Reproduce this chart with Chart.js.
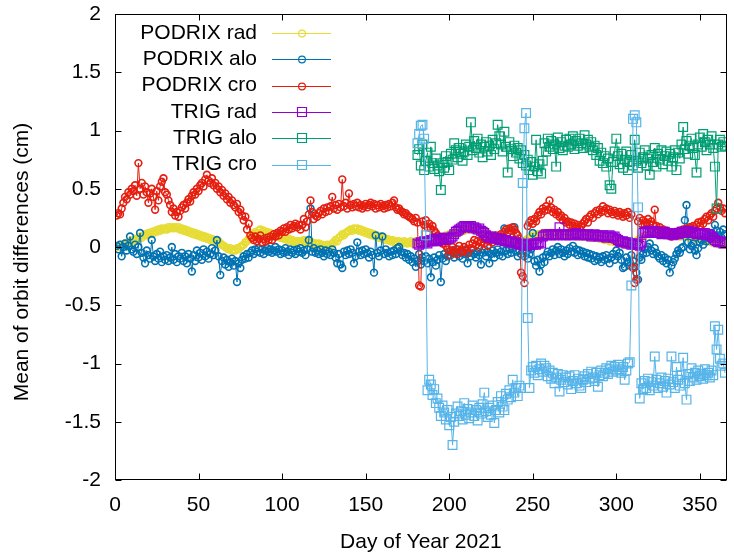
<!DOCTYPE html>
<html>
<head>
<meta charset="utf-8">
<script src="https://cdn.jsdelivr.net/npm/chart.js@4.4.0/dist/chart.umd.min.js"></script>
<style>
  html, body { margin: 0; padding: 0; background: #ffffff; }
  #wrap { width: 734px; height: 559px; }
</style>
</head>
<body>
<div id="wrap"><canvas id="orbitChart" width="734" height="559"></canvas></div>
<script>
// first day of each series (day of year 2021)
const podrixStart = 1;
const trigStart = 181;

const yTicks = [-2, -1.5, -1, -0.5, 0, 0.5, 1, 1.5, 2];
const xTicks = [0, 50, 100, 150, 200, 250, 300, 350];

const seriesNames = ['PODRIX rad', 'PODRIX alo', 'PODRIX cro', 'TRIG rad', 'TRIG alo', 'TRIG cro'];

// PODRIX, days 1..365
const podrixRad = [
  0.00, 0.01, 0.00, 0.02, 0.01, 0.03, 0.02, 0.04, 0.05, 0.04,
  0.06, 0.07, 0.06, 0.08, 0.09, 0.08, 0.10, 0.11, 0.10, 0.12,
  0.11, 0.13, 0.12, 0.14, 0.13, 0.15, 0.14, 0.16, 0.15, 0.16,
  0.15, 0.17, 0.16, 0.17, 0.16, 0.17, 0.16, 0.17, 0.15, 0.16,
  0.14, 0.15, 0.13, 0.14, 0.12, 0.13, 0.11, 0.12, 0.10, 0.11,
  0.09, 0.10, 0.08, 0.09, 0.07, 0.08, 0.06, 0.07, 0.05, 0.06,
  0.04, 0.05, 0.03, 0.02, 0.01, 0.00, -0.01, -0.02, -0.01, -0.03,
  -0.02, -0.03, -0.01, -0.02, 0.00, 0.01, 0.02, 0.04, 0.05, 0.07,
  0.08, 0.10, 0.11, 0.13, 0.12, 0.14, 0.15, 0.13, 0.14, 0.12,
  0.13, 0.11, 0.12, 0.10, 0.11, 0.09, 0.10, 0.09, 0.08, 0.09,
  0.07, 0.08, 0.06, 0.07, 0.05, 0.06, 0.05, 0.04, 0.05, 0.04,
  0.05, 0.04, 0.06, 0.05, 0.04, 0.05, 0.03, 0.04, 0.02, 0.03,
  0.02, 0.03, 0.01, 0.02, 0.00, 0.01, 0.02, 0.00, 0.01, 0.03,
  0.04, 0.06, 0.05, 0.08, 0.09, 0.11, 0.10, 0.12, 0.13, 0.14,
  0.15, 0.14, 0.16, 0.15, 0.16, 0.14, 0.15, 0.13, 0.14, 0.12,
  0.13, 0.11, 0.12, 0.10, 0.11, 0.09, 0.10, 0.08, 0.09, 0.07,
  0.08, 0.06, 0.07, 0.06, 0.05, 0.06, 0.04, 0.05, 0.04, 0.05,
  0.04, 0.03, 0.05, 0.04, 0.03, 0.04, 0.05, 0.03, 0.04, 0.05,
  0.04, 0.05, 0.03, 0.04, 0.05, 0.06, 0.05, 0.06, 0.07, 0.06,
  0.07, 0.06, 0.08, 0.07, 0.08, 0.09, 0.08, 0.10, 0.09, 0.11,
  0.10, 0.12, 0.11, 0.13, 0.12, 0.14, 0.13, 0.15, 0.14, 0.15,
  0.16, 0.15, 0.16, 0.15, 0.16, 0.15, 0.14, 0.15, 0.13, 0.14,
  0.12, 0.13, 0.11, 0.10, 0.09, 0.10, 0.08, 0.07, 0.08, 0.06,
  0.07, 0.05, 0.06, 0.04, 0.05, 0.03, 0.04, 0.02, 0.03, 0.02,
  0.03, 0.02, 0.03, 0.04, 0.05, 0.06, 0.07, 0.08, 0.09, 0.10,
  0.09, 0.10, 0.11, 0.10, 0.11, 0.12, 0.11, 0.12, 0.11, 0.12,
  0.12, 0.11, 0.12, 0.11, 0.12, 0.11, 0.10, 0.11, 0.10, 0.11,
  0.10, 0.11, 0.10, 0.11, 0.10, 0.09, 0.10, 0.09, 0.10, 0.09,
  0.10, 0.09, 0.10, 0.09, 0.08, 0.09, 0.08, 0.09, 0.08, 0.07,
  0.08, 0.07, 0.06, 0.07, 0.06, 0.05, 0.06, 0.05, 0.04, 0.05,
  0.04, 0.03, 0.04, 0.03, 0.02, 0.03, 0.02, 0.03, 0.02, 0.03,
  0.04, 0.05, 0.06, 0.07, 0.08, 0.09, 0.10, 0.11, 0.12, 0.11,
  0.12, 0.13, 0.12, 0.13, 0.12, 0.13, 0.12, 0.11, 0.12, 0.11,
  0.12, 0.11, 0.10, 0.11, 0.10, 0.11, 0.10, 0.09, 0.10, 0.09,
  0.10, 0.09, 0.10, 0.09, 0.08, 0.09, 0.08, 0.07, 0.08, 0.07,
  0.06, 0.07, 0.06, 0.05, 0.06, 0.05, 0.04, 0.05, 0.04, 0.03,
  0.04, 0.03, 0.02, 0.03, 0.02
];

const podrixAlo = [
  0.01, -0.02, 0.02, -0.08, 0.00, 0.03, -0.03, 0.01, 0.09, -0.02,
  -0.04, 0.02, -0.06, 0.00, 0.12, -0.05, -0.09, -0.14, -0.03, -0.07,
  -0.10, 0.06, -0.08, -0.12, -0.06, -0.10, -0.04, -0.13, -0.08, -0.11,
  -0.07, -0.12, -0.09, 0.00, -0.11, -0.06, -0.13, -0.08, -0.10, -0.05,
  -0.12, -0.08, -0.14, -0.06, -0.10, -0.21, -0.07, -0.12, -0.03, -0.09,
  -0.05, -0.11, -0.02, -0.08, -0.04, -0.10, -0.06, -0.01, -0.07, -0.03,
  0.06, -0.08, -0.24, -0.12, -0.09, -0.15, -0.11, -0.17, -0.13, -0.10,
  -0.16, -0.12, -0.30, -0.14, -0.18, -0.11, -0.08, -0.10, -0.06, -0.09,
  -0.05, -0.03, -0.06, -0.02, -0.04, -0.01, -0.05, -0.02, -0.06, -0.03,
  -0.01, -0.04, -0.02, -0.05, -0.03, 0.00, -0.04, -0.02, -0.06, -0.03,
  -0.05, -0.01, -0.04, -0.07, -0.02, -0.05, -0.03, -0.06, -0.02, -0.04,
  -0.01, -0.05, -0.03, -0.07, -0.02, 0.06, 0.33, -0.04, -0.01, -0.05,
  -0.03, -0.06, -0.02, -0.05, -0.08, -0.03, -0.06, -0.04, -0.07, -0.02,
  -0.05, -0.09, -0.14, -0.06, -0.15, -0.18, -0.04, -0.07, -0.03, -0.06,
  -0.02, -0.05, -0.14, -0.08, 0.04, -0.04, -0.07, -0.03, -0.06, -0.02,
  -0.05, -0.09, -0.04, -0.07, -0.22, 0.10, -0.05, -0.08, -0.03, 0.09,
  -0.06, -0.02, -0.05, -0.08, -0.04, -0.07, -0.03, -0.06, -0.01, 0.00,
  -0.04, -0.07, -0.05, -0.09, -0.06, -0.11, -0.08, -0.13, -0.10, -0.17,
  -0.12, -0.06, -0.15, -0.09, -0.12, -0.08, -0.14, -0.10, -0.26, -0.13,
  -0.09, -0.16, -0.11, -0.07, -0.30, -0.10, -0.06, -0.12, -0.08, -0.04,
  -0.07, -0.03, -0.09, -0.05, -0.02, -0.08, -0.04, -0.10, -0.06, -0.03,
  -0.14, -0.05, -0.08, -0.02, -0.06, -0.09, -0.04, -0.07, -0.15, -0.05,
  -0.02, -0.08, -0.04, -0.14, -0.06, -0.03, -0.09, -0.05, -0.02, -0.07,
  -0.04, -0.08, 0.16, -0.03, -0.06, -0.02, -0.05, -0.01, 0.17, -0.04,
  -0.08, -0.03, -0.06, 0.00, -0.08, -0.04, -0.10, -0.06, -0.02, 0.12,
  -0.12, -0.16, -0.11, -0.21, -0.15, -0.09, -0.13, -0.07, -0.04, -0.08,
  -0.05, -0.02, -0.07, -0.03, 0.00, -0.06, -0.02, -0.05, -0.08, -0.03,
  -0.06, -0.01, -0.04, 0.01, -0.05, -0.02, -0.07, -0.03, -0.06, -0.04,
  -0.08, -0.05, -0.09, -0.06, -0.10, -0.07, -0.12, -0.08, -0.11, -0.09,
  -0.13, -0.08, -0.11, -0.07, -0.10, -0.14, -0.09, -0.06, -0.11, -0.03,
  -0.08, -0.05, -0.11, -0.18, -0.17, -0.09, -0.13, -0.16, -0.07, -0.12,
  -0.17, -0.22, -0.28, -0.09, -0.11, -0.06, -0.02, -0.05, 0.00, 0.03,
  -0.03, -0.06, -0.01, -0.05, -0.08, -0.10, -0.07, -0.12, -0.09, -0.14,
  -0.11, -0.22, -0.16, -0.13, -0.10, -0.06, -0.03, -0.05, -0.01, 0.00,
  0.23, 0.36, 0.04, -0.02, 0.01, 0.03, -0.03, -0.07, -0.01, 0.04,
  0.06, 0.02, 0.08, 0.05, 0.10, 0.07, 0.12, 0.09, 0.19, 0.14,
  0.10, 0.13, 0.08, 0.15, 0.11
];

const podrixCro = [
  0.27, 0.29, 0.28, 0.33, 0.38, 0.43, 0.41, 0.47, 0.45, 0.50,
  0.48, 0.53, 0.44, 0.72, 0.50, 0.55, 0.45, 0.52, 0.47, 0.38,
  0.46, 0.50, 0.43, 0.32, 0.48, 0.40, 0.52, 0.56, 0.59, 0.47,
  0.45, 0.40, 0.36, 0.30, 0.33, 0.27, 0.30, 0.26, 0.31, 0.34,
  0.36, 0.33, 0.38, 0.41, 0.39, 0.44, 0.47, 0.45, 0.50, 0.48,
  0.53, 0.55, 0.52, 0.58, 0.62, 0.57, 0.55, 0.59, 0.53, 0.55,
  0.50, 0.52, 0.47, 0.49, 0.44, 0.46, 0.41, 0.43, 0.38, 0.40,
  0.36, 0.34, 0.37, 0.30, 0.32, 0.27, 0.23, 0.26, 0.15, 0.20,
  0.10, 0.08, 0.06, 0.09, 0.05, 0.07, 0.10, 0.04, 0.07, 0.05,
  0.08, 0.06, 0.09, 0.06, 0.11, 0.09, 0.12, 0.10, 0.14, 0.13,
  0.16, 0.13, 0.17, 0.15, 0.19, 0.16, 0.18, 0.20, 0.17, 0.19,
  0.15, 0.19, 0.24, 0.17, 0.22, 0.28, 0.40, 0.30, 0.24, 0.27,
  0.26, 0.29, 0.31, 0.28, 0.33, 0.30, 0.34, 0.31, 0.35, 0.43,
  0.33, 0.36, 0.32, 0.37, 0.34, 0.58, 0.35, 0.38, 0.33, 0.46,
  0.36, 0.34, 0.37, 0.35, 0.38, 0.34, 0.36, 0.33, 0.35, 0.37,
  0.34, 0.36, 0.38, 0.35, 0.37, 0.33, 0.36, 0.34, 0.37, 0.35,
  0.33, 0.36, 0.34, 0.37, 0.35, 0.38, 0.40, 0.34, 0.32, 0.33,
  0.31, 0.30, 0.28, 0.29, 0.27, 0.26, 0.25, 0.24, 0.22, 0.25,
  0.21, -0.33, -0.34, 0.22, 0.19, 0.23, 0.17, 0.20, 0.16, 0.18,
  0.14, 0.12, 0.10, 0.06, 0.08, 0.03, 0.05, 0.01, -0.02, -0.07,
  -0.03, 0.00, -0.05, -0.02, -0.06, 0.01, -0.03, -0.04, 0.00, -0.02,
  -0.05, 0.02, -0.01, 0.03, 0.06, 0.02, 0.05, 0.00, 0.04, 0.07,
  0.03, 0.06, 0.01, 0.05, 0.08, 0.04, 0.07, 0.10, 0.06, 0.09,
  0.11, 0.09, 0.13, 0.15, 0.12, 0.16, 0.14, 0.17, 0.15, 0.12,
  0.10, 0.07, -0.22, -0.25, -0.31, 0.03, 0.18, 0.21, 0.23, 0.20,
  0.24, 0.22, 0.27, 0.30, 0.28, 0.33, 0.31, 0.35, 0.32, 0.40,
  0.34, 0.30, 0.32, 0.28, 0.30, 0.26, 0.27, 0.23, 0.25, 0.21,
  0.22, 0.19, 0.21, 0.18, 0.20, 0.17, 0.19, 0.16, 0.18, 0.20,
  0.22, 0.24, 0.21, 0.26, 0.28, 0.25, 0.29, 0.31, 0.28, 0.32,
  0.30, 0.35, 0.31, 0.33, 0.29, 0.32, 0.30, 0.28, 0.31, 0.29,
  0.27, 0.30, 0.28, 0.26, 0.29, 0.27, 0.30, 0.25, 0.28, -0.18,
  -0.31, -0.28, 0.22, 0.25, 0.20, 0.23, 0.19, 0.21, 0.24, 0.20,
  0.22, 0.19, 0.32, 0.18, 0.15, 0.17, 0.13, 0.15, 0.11, 0.14,
  0.10, 0.12, 0.09, 0.11, 0.13, 0.10, 0.12, 0.14, 0.11, 0.15,
  0.13, 0.16, 0.14, 0.17, 0.15, 0.18, 0.16, 0.19, 0.21, 0.18,
  0.22, 0.20, 0.24, 0.26, 0.23, 0.27, 0.29, 0.26, 0.31, 0.33,
  0.38, 0.34, 0.31, 0.33, 0.29
];

// TRIG, days 181..365
const trigRad = [
  0.03, 0.02, 0.04, 0.03, 0.05, 0.04, 0.03, 0.05, 0.06, 0.05,
  0.07, 0.06, 0.05, 0.07, 0.06, 0.08, 0.07, 0.06, 0.08, 0.07,
  0.08, 0.09, 0.11, 0.13, 0.14, 0.15, 0.16, 0.17, 0.18, 0.17,
  0.18, 0.17, 0.18, 0.16, 0.17, 0.16, 0.15, 0.16, 0.14, 0.13,
  0.12, 0.10, 0.09, 0.08, 0.09, 0.08, 0.07, 0.08, 0.07, 0.06,
  0.07, 0.06, 0.05, 0.06, 0.05, 0.04, 0.05, 0.04, 0.03, 0.04,
  0.03, 0.02, 0.03, 0.02, 0.01, 0.02, 0.01, 0.02, 0.03, 0.02,
  0.03, 0.02, 0.03, 0.04, 0.03, 0.09, 0.10, 0.11, 0.10, 0.11,
  0.10, 0.11, 0.10, 0.11, 0.10, 0.17, 0.11, 0.10, 0.11, 0.10,
  0.11, 0.10, 0.11, 0.10, 0.11, 0.12, 0.11, 0.10, 0.11, 0.10,
  0.11, 0.10, 0.11, 0.10, 0.09, 0.10, 0.11, 0.10, 0.09, 0.10,
  0.09, 0.10, 0.09, 0.08, 0.09, 0.10, 0.09, 0.08, 0.09, 0.07,
  0.06, 0.05, 0.04, 0.05, 0.04, 0.03, 0.04, 0.03, 0.02, 0.03,
  0.02, 0.03, 0.02, 0.01, 0.03, 0.12, 0.13, 0.12, 0.14, 0.13,
  0.12, 0.14, 0.13, 0.12, 0.13, 0.12, 0.11, 0.12, 0.13, 0.12,
  0.11, 0.12, 0.11, 0.10, 0.11, 0.12, 0.11, 0.12, 0.13, 0.12,
  0.13, 0.12, 0.14, 0.13, 0.12, 0.13, 0.12, 0.11, 0.12, 0.11,
  0.12, 0.11, 0.12, 0.10, 0.11, 0.10, 0.09, 0.08, 0.06, 0.05,
  0.04, 0.05, 0.04, 0.03, 0.04
];

const trigAlo = [
  0.79, 0.84, 0.70, 0.88, 0.66, 0.74, 0.81, 0.69, 0.86, 0.72,
  0.67, 0.76, 0.70, 0.65, 0.49, 0.72, 0.68, 0.78, 0.73, 0.66,
  0.80, 0.75, 0.89, 0.83, 0.77, 0.85, 0.80, 0.74, 0.82, 0.88,
  0.79, 0.86, 1.07, 0.83, 0.91, 0.85, 0.93, 0.81, 0.88, 0.77,
  0.86, 0.90, 0.82, 0.87, 0.79, 0.92, 0.84, 0.89, 1.05, 0.95,
  0.88, 0.82, 0.99, 0.86, 0.64, 0.90, 0.84, 0.78, 0.87, 0.81,
  0.85, 0.76, 0.83, 0.72, 0.79, 0.70, 0.75, 0.66, 0.73, 0.62,
  0.69, 0.92, 0.65, 0.71, 0.63, 0.74, 0.89, 0.82, 0.93, 0.86,
  0.91, 0.84, 0.88, 0.69, 0.94, 0.85, 0.90, 0.83, 0.87, 0.92,
  0.86, 0.93, 0.88, 0.95, 0.84, 0.91, 0.87, 0.93, 0.89, 0.85,
  0.96, 0.88, 0.92, 0.86, 0.90, 0.83, 0.87, 0.79, 0.85, 0.74,
  0.81, 0.72, 0.78, 0.69, 0.76, 0.53, 0.50, 0.73, 0.82, 0.93,
  0.78, 0.71, 0.80, 0.68, 0.75, 0.82, 0.66, 0.73, 0.79, 0.70,
  0.92, 0.74, 0.68, 0.81, 0.72, 0.77, 0.83, 0.70, 0.76, 0.62,
  0.79, 0.73, 0.85, 0.69, 0.80, 0.75, 0.83, 0.71, 0.78, 0.82,
  0.74, 0.80, 0.69, 0.77, 0.83, 0.66, 0.81, 0.76, 0.88, 1.03,
  0.84, 0.91, 0.80, 0.87, 0.93, 0.85, 0.79, 0.64, 0.88, 0.94,
  0.86, 0.97, 0.90, 0.83, 0.92, 0.88, 0.95, 0.85, 0.69, 0.33,
  0.88, 0.92, 0.86, 0.90, 0.87
];

const trigCro = [
  0.89, 0.97, 1.04, 1.05, 0.93, 0.10, -1.23, -1.14, -1.18, -1.27,
  -1.22, -1.34, -1.30, -1.38, -1.45, -1.36, -1.42, -1.48, -1.40, -1.53,
  -1.46, -1.70, -1.50, -1.43, -1.37, -1.45, -1.41, -1.48, -1.34, -1.44,
  -1.39, -1.47, -1.42, -1.36, -1.45, -1.40, -1.49, -1.38, -1.43, -1.35,
  -1.25, -1.41, -1.46, -1.38, -1.44, -1.36, -1.51, -1.40, -1.33, -1.42,
  -1.28, -1.37, -1.40, -1.26, -1.31, -1.23, -1.29, -1.14, -1.25, -1.21,
  -1.28, -1.19, -1.21, 0.55, 1.02, 1.15, -0.61, -1.21, -1.06, -1.03,
  -1.08, -1.02, -1.10, -1.05, -1.00, -1.07, -1.02, -1.04, -1.11, -1.06,
  -1.13, -1.08, -1.17, -1.12, -1.09, -1.24, -1.14, -1.10, -1.16, -1.12,
  -1.18, -1.11, -1.22, -1.15, -1.10, -1.17, -1.13, -1.19, -1.21, -1.14,
  -1.11, -1.16, -1.09, -1.13, -1.07, -1.12, -1.15, -1.08, -1.20, -1.10,
  -1.06, -1.11, -1.08, -1.04, -1.09, -1.05, -1.02, -1.07, -1.03, -1.06,
  -1.01, -1.05, -1.08, -1.03, -1.14, -1.06, -1.00, -0.99, -0.33, 1.10,
  1.13, 1.07, 0.34, -1.30, -1.17, -1.22, -1.15, -1.21, -1.13, -1.23,
  -1.16, -1.19, -0.94, -1.14, -1.21, -1.17, -1.12, -1.20, -1.15, -1.25,
  -1.13, -1.18, -0.94, -1.16, -1.21, -1.03, -1.14, -1.19, -1.10, -0.95,
  -1.17, -1.31, -1.09, -1.15, -1.04, -1.12, -1.08, -1.14, -1.06, -1.11,
  -1.09, -1.13, -1.05, -1.10, -1.08, -1.12, -1.06, -1.10, -0.68, -0.88,
  -0.71, -0.96, -1.02, -1.00, -1.08
];

const seriesColors = ['#e6dc34', '#0072b2', '#e51e10', '#9400d3', '#009e73', '#56b4e9'];

function toPoints(values, start) {
    return values.map((v, i) => ({ x: start + i, y: v }));
}

const baseFont = "'Liberation Sans', Arial, sans-serif";
Chart.defaults.font.family = baseFont;
Chart.defaults.font.size = 21;
Chart.defaults.color = '#000000';

const seriesValues = [podrixRad, podrixAlo, podrixCro, trigRad, trigAlo, trigCro];
const seriesStarts = [podrixStart, podrixStart, podrixStart, trigStart, trigStart, trigStart];

const datasets = seriesNames.map((name, i) => {
    const isTrig = i >= 3;
    return {
        label: name,
        data: toPoints(seriesValues[i], seriesStarts[i]),
        borderColor: seriesColors[i],
        borderWidth: 1,
        pointStyle: isTrig ? 'rect' : 'circle',
        pointRadius: isTrig ? 6.2 : 3.4,
        pointBorderWidth: isTrig ? 1.2 : 1.6,
        pointBorderColor: seriesColors[i],
        pointBackgroundColor: 'rgba(255,255,255,0)',
        tension: 0,
        order: 6 - i   // gnuplot draws later series on top
    };
});

// gnuplot-like frame: full border, inward ticks, key and y title
const gnuplotFrame = {
    id: 'gnuplotFrame',
    afterDatasetsDraw(chart) {
        const { ctx, chartArea: a, scales: { x, y } } = chart;
        ctx.save();
        ctx.strokeStyle = '#000000';
        ctx.lineWidth = 1;
        const L = Math.round(a.left) + 0.5, R = Math.round(a.right) - 0.5;
        const T = Math.round(a.top) + 0.5, B = Math.round(a.bottom) - 0.5;
        ctx.strokeRect(L, T, R - L, B - T);
        ctx.beginPath();
        xTicks.forEach(v => {
            const px = Math.round(x.getPixelForValue(v)) + 0.5;
            ctx.moveTo(px, B); ctx.lineTo(px, B - 6);
            ctx.moveTo(px, T); ctx.lineTo(px, T + 6);
        });
        yTicks.forEach(v => {
            const py = Math.round(y.getPixelForValue(v)) + 0.5;
            ctx.moveTo(L, py); ctx.lineTo(L + 6, py);
            ctx.moveTo(R, py); ctx.lineTo(R - 6, py);
        });
        ctx.stroke();

        // key
        ctx.font = '21px ' + baseFont;
        ctx.textAlign = 'right';
        ctx.textBaseline = 'middle';
        seriesNames.forEach((name, i) => {
            const yy = 33 + i * 26.3;
            ctx.fillStyle = '#000000';
            ctx.fillText(name, 257, yy);
            ctx.strokeStyle = seriesColors[i];
            ctx.lineWidth = 1.2;
            ctx.beginPath();
            ctx.moveTo(272, Math.round(yy) + 0.5);
            ctx.lineTo(331, Math.round(yy) + 0.5);
            ctx.stroke();
            ctx.beginPath();
            if (i >= 3) {
                ctx.rect(297.5, Math.round(yy) - 4.5, 9, 9);
            } else {
                ctx.arc(302, Math.round(yy) + 0.5, 3.4, 0, Math.PI * 2);
            }
            ctx.stroke();
        });

        // y axis title
        ctx.translate(22, 262);
        ctx.rotate(-Math.PI / 2);
        ctx.textAlign = 'center';
        ctx.fillStyle = '#000000';
        ctx.fillText('Mean of orbit differences (cm)', 0, 0);
        ctx.restore();
    }
};

new Chart(document.getElementById('orbitChart'), {
    type: 'line',
    data: { datasets: datasets },
    options: {
        responsive: false,
        animation: false,
        layout: { padding: { left: 0, right: 4, top: 14, bottom: 0 } },
        plugins: {
            legend: { display: false },
            tooltip: { enabled: false }
        },
        scales: {
            x: {
                type: 'linear',
                min: 0,
                max: 366,
                grid: { display: false, drawTicks: false },
                border: { display: false },
                ticks: { stepSize: 50, includeBounds: false, padding: 13, maxRotation: 0 },
                afterBuildTicks: scale => { scale.ticks = xTicks.map(v => ({ value: v })); },
                afterFit: scale => {
                    scale.height = 79;
                    scale.paddingLeft = 0;
                    scale.paddingRight = 0;
                },
                title: { display: true, text: 'Day of Year 2021', padding: { top: 0, bottom: 4 } }
            },
            y: {
                min: -2,
                max: 2,
                grid: { display: false, drawTicks: false },
                border: { display: false },
                ticks: { stepSize: 0.5, padding: 14, callback: v => String(v) },
                afterBuildTicks: scale => { scale.ticks = yTicks.map(v => ({ value: v })); },
                afterFit: scale => {
                    scale.width = 115;
                    scale.paddingTop = 0;
                    scale.paddingBottom = 0;
                }
            }
        }
    },
    plugins: [gnuplotFrame]
});
</script>
</body>
</html>
